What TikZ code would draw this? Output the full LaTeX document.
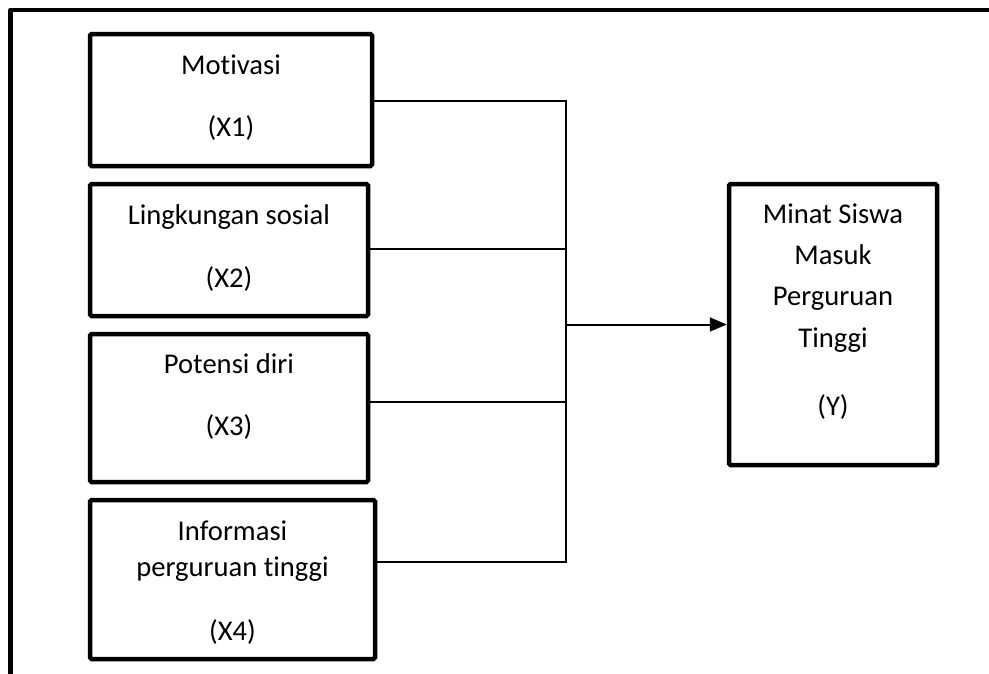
\documentclass[tikz,border=0pt]{standalone}
\usepackage{fontspec}
\setmainfont{Carlito}[Ligatures={NoCommon}]
\usetikzlibrary{arrows.meta}
\begin{document}
\begin{tikzpicture}[x=1pt,y=-1pt,
  box/.style={draw=black,line width=4.5pt,rounded corners=1.5pt,inner sep=0pt,fill=white},
  lbl/.style={anchor=base,inner sep=0pt,font=\fontsize{28.6}{34}\selectfont},
  conn/.style={draw=black,line width=2pt},
  frame/.style={draw=black,line width=4.5pt,line join=round}]
\useasboundingbox (0,0) rectangle (989,673);
% outer frame (cropped)
\coordinate (fA) at (10.5,680);
\coordinate (fB) at (10.5,10);
\coordinate (fC) at (995,10);
\draw[frame] (fA) -- (fB) -- (fC);
% boxes
\node[box,minimum width=282pt,minimum height=132pt] (b1) at (231,100) {};
\node[box,minimum width=278pt,minimum height=132pt] (b2) at (229,250) {};
\node[box,minimum width=278pt,minimum height=148pt] (b3) at (229,408) {};
\node[box,minimum width=285pt,minimum height=159pt] (b4) at (232.5,579.5) {};
\node[box,minimum width=208pt,minimum height=281pt] (y) at (833,324.5) {};
% labels
\node[lbl] (t1a) at (231,74) {Motivasi};
\node[lbl] (t1b) at (231,136) {(X1)};
\node[lbl] (t2a) at (229,224) {Lingkungan sosial};
\node[lbl] (t2b) at (229,287) {(X2)};
\node[lbl] (t3a) at (229,373) {Potensi diri};
\node[lbl] (t3b) at (229,435) {(X3)};
\node[lbl] (t4a) at (232.5,540) {Informasi};
\node[lbl] (t4b) at (232.5,576) {perguruan tinggi};
\node[lbl] (t4c) at (232.5,640) {(X4)};
\node[lbl] (tya) at (833,223) {Minat Siswa};
\node[lbl] (tyb) at (833,264) {Masuk};
\node[lbl] (tyc) at (833,305) {Perguruan};
\node[lbl] (tyd) at (833,347) {Tinggi};
\node[lbl] (tye) at (833,415) {(Y)};
% junctions
\coordinate (j1) at (566,101);
\coordinate (j2) at (566,249);
\coordinate (j3) at (566,402);
\coordinate (j4) at (566,562);
\coordinate (jm) at (566,324.5);
\draw[conn] (b1.east |- j1) -- (j1);
\draw[conn] (b2.east |- j2) -- (j2);
\draw[conn] (b3.east |- j3) -- (j3);
\draw[conn] (b4.east |- j4) -- (j4);
\draw[conn,line cap=rect] (j1) -- (j4);
\draw[conn,-{Triangle[length=17pt,width=14pt]}] (jm) -- (y.west);
\end{tikzpicture}
\end{document}
